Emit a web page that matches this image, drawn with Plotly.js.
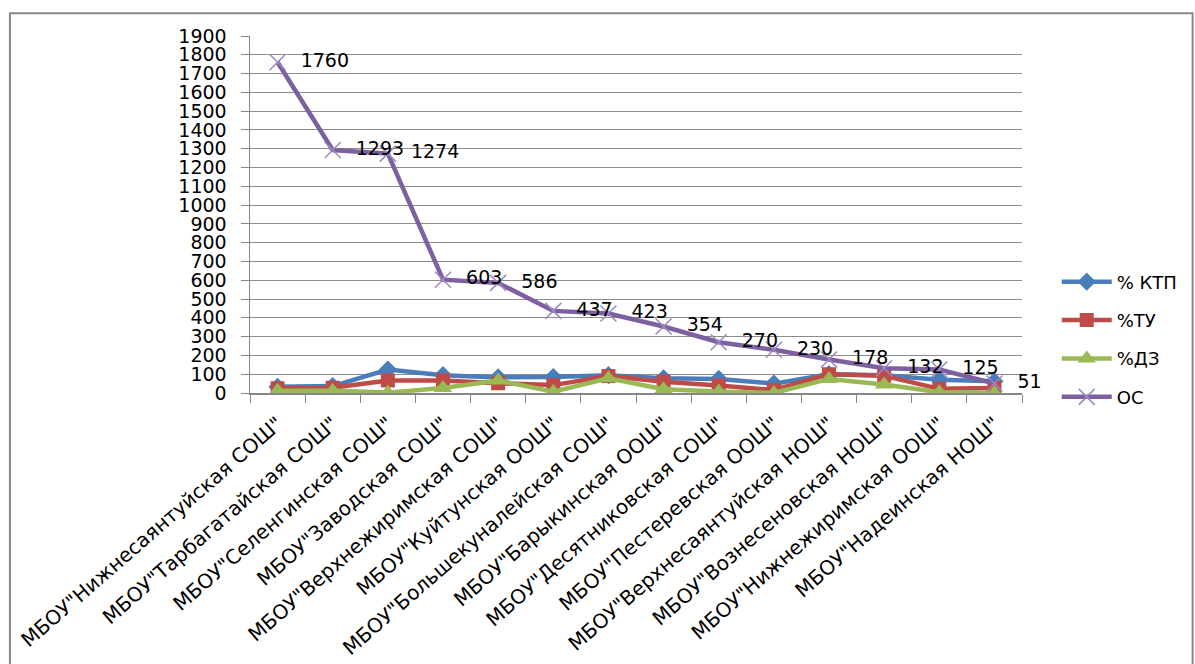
<!DOCTYPE html>
<html>
<head>
<meta charset="utf-8">
<script src="https://cdn.plot.ly/plotly-3.0.1.min.js"></script>
<style>html,body{margin:0;padding:0;background:#fff;}#chart{width:1195px;height:664px;}</style>
</head>
<body>
<div id="chart"></div>
<script>
const schools = [
  'МБОУ"Нижнесаянтуйская СОШ"',
  'МБОУ"Тарбагатайская СОШ"',
  'МБОУ"Селенгинская СОШ"',
  'МБОУ"Заводская СОШ"',
  'МБОУ"Верхнежиримская СОШ"',
  'МБОУ"Куйтунская ООШ"',
  'МБОУ"Большекуналейская СОШ"',
  'МБОУ"Барыкинская ООШ"',
  'МБОУ"Десятниковская СОШ"',
  'МБОУ"Пестеревская ООШ"',
  'МБОУ"Верхнесаянтуйская НОШ"',
  'МБОУ"Вознесеновская НОШ"',
  'МБОУ"Нижнежиримская ООШ"',
  'МБОУ"Надеинская НОШ"'
];
const ktp = [33, 37, 125, 95, 83, 85, 95, 78, 75, 50, 100, 95, 70, 62];
const tu  = [25, 28, 67, 67, 52, 42, 90, 60, 40, 16, 100, 92, 22, 27];
const dz  = [12, 12, 2, 27, 67, 7, 78, 20, 8, 0, 75, 45, 4, 0];
const os  = [1760, 1293, 1274, 603, 586, 437, 423, 354, 270, 230, 178, 132, 125, 51];
const yTicks = [0,100,200,300,400,500,600,700,800,900,1000,1100,1200,1300,1400,1500,1600,1700,1800,1900];

const F = 'DejaVu Sans, Verdana, sans-serif';
const traces = [
  {x: schools, y: ktp, name: '% КТП', legendgroup: 'a', type: 'scatter', mode: 'lines+markers',
   line: {color: '#4A7EBB', width: 4.5}, marker: {symbol: 'diamond', size: 14, color: '#4A7EBB'}},
  {x: schools, y: tu, name: '%ТУ', legendgroup: 'b', type: 'scatter', mode: 'lines+markers',
   line: {color: '#BE4B48', width: 4.5}, marker: {symbol: 'square', size: 14, color: '#BE4B48'}},
  {x: schools, y: dz, name: '%ДЗ', legendgroup: 'c', type: 'scatter', mode: 'lines+markers',
   line: {color: '#98B954', width: 4.5}, marker: {symbol: 'triangle-up', size: 16, color: '#98B954'}},
  {x: schools, y: os, name: 'ОС', legendgroup: 'd', type: 'scatter', mode: 'lines+markers+text', cliponaxis: false,
   text: os.map(v => '\u00a0\u00a0' + v), textposition: 'middle right', textfont: {family: F, size: 19, color: '#000'},
   line: {color: '#7D60A0', width: 4.5},
   marker: {symbol: 'x-thin', size: 16, color: '#7D60A0', line: {color: '#9d88c0', width: 1.5}}}
];

const layout = {
  width: 1195, height: 664,
  margin: {l: 250, r: 173, t: 36, b: 271},
  paper_bgcolor: '#fff', plot_bgcolor: '#fff',
  showlegend: true,
  legend: {x: 1.045, y: 0.15, xanchor: 'left', yanchor: 'middle', font: {family: F, size: 18, color: '#000'},
           itemwidth: 50, traceorder: 'grouped', tracegroupgap: 12, bgcolor: 'rgba(0,0,0,0)'},
  xaxis: {type: 'category', range: [-0.5, 13.5], tickangle: -41, tickfont: {family: F, size: 20, color: '#000'},
          ticks: 'outside', ticklen: 8, tickcolor: '#868686', tickson: 'boundaries', ticklabelstandoff: 10,
          showline: true, linecolor: '#868686', linewidth: 1.5, showgrid: false, zeroline: false, automargin: false},
  yaxis: {range: [0, 1900], tickvals: yTicks, ticktext: yTicks.map(String), tickfont: {family: F, size: 19, color: '#000'},
          ticks: 'outside', ticklen: 8, tickcolor: '#868686', showline: true, linecolor: '#868686', linewidth: 1.5,
          showgrid: true, gridcolor: '#8c8c8c', gridwidth: 1, zeroline: false, automargin: false, ticklabelstandoff: 10},
  shapes: [{type: 'rect', xref: 'paper', yref: 'paper', x0: -0.311, x1: 1.221, y0: -0.9, y1: 1.064,
            line: {color: '#888', width: 2}, fillcolor: 'rgba(0,0,0,0)', layer: 'below'}]
};
Plotly.newPlot('chart', traces, layout, {displayModeBar: false, staticPlot: true});
</script>
</body>
</html>
